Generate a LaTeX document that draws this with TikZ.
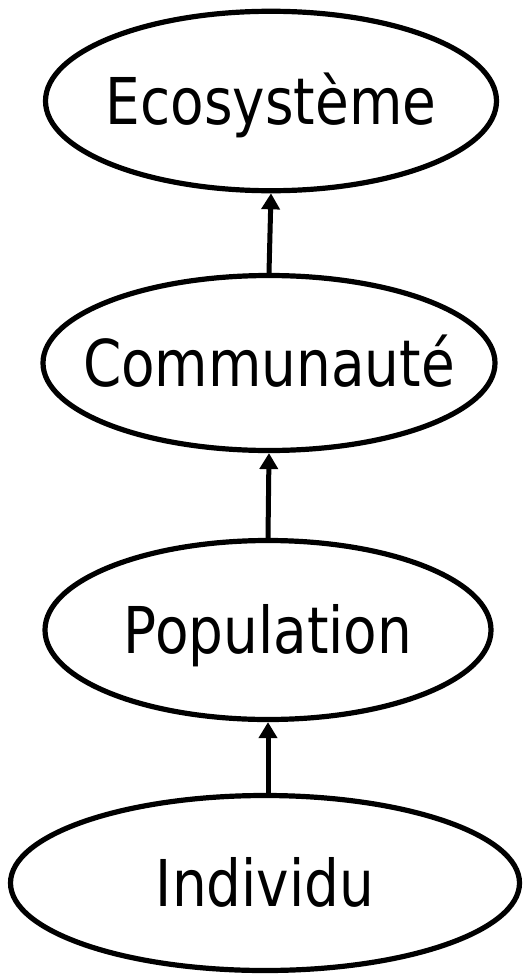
\documentclass[tikz,border=0pt]{standalone}
\usepackage{fontspec}
\newfontfamily\lblfont{DejaVu Sans}[FakeStretch=0.85]
\usepackage{tikz}
\usetikzlibrary{arrows.meta,shapes.geometric}

\begin{document}
\begin{tikzpicture}[x=0.75pt, y=-0.75pt,
    level/.style={ellipse, draw=black, line width=3.9pt, inner sep=0pt,
        font=\lblfont\fontsize{48.4}{58}\selectfont, text height=35pt, text depth=0pt},
    up/.style={line width=3.75pt, -{Triangle[length=12pt, width=13.5pt]}}]
    \useasboundingbox (0,0) rectangle (523,974);
    \node[level, minimum width=338.25pt, minimum height=134.6pt] (eco) at (271,101) {\makebox[0pt]{Ecosystème}};
    \node[level, minimum width=339pt, minimum height=131.25pt] (com) at (269,363) {\makebox[0pt]{Communauté}};
    \node[level, minimum width=334.5pt, minimum height=134.25pt] (pop) at (268,630) {\makebox[0pt]{Population}};
    \node[level, minimum width=381.75pt, minimum height=131.25pt] (ind) at (265,883) {\makebox[0pt]{Individu}};
    \draw[up] (com.north) -- (eco.south);
    \draw[up] (pop.north) -- (com.south);
    \draw[up] (ind.north -| pop.south) -- (pop.south);
\end{tikzpicture}
\end{document}
